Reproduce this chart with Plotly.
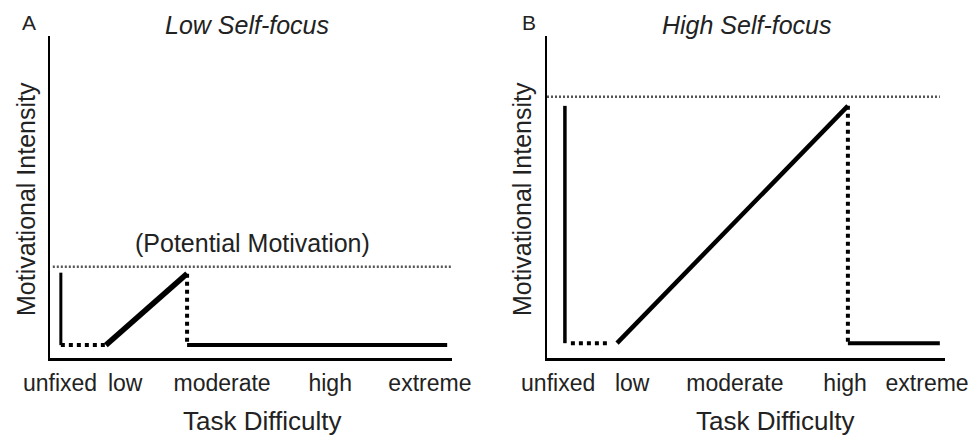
import plotly.graph_objects as go

# ---------------- data ----------------
categories = ["unfixed", "low", "moderate", "high", "extreme"]
tick_pos_a = [0.25, 1.87, 4.28, 6.97, 9.45]
tick_pos_b = [0.28, 2.14, 4.72, 7.49, 9.55]

# Panel A (Low Self-focus): key x positions and y levels
a_potential = 2.83
a_potential_x = [0.07, 10.0]
a_unfixed_x = 0.27
a_low_x = 1.39
a_drop_x = 3.41
a_end_x = 9.88
a_top = 2.65
a_peak = 2.62
a_base = 0.40

# Panel B (High Self-focus)
b_potential = 8.11
b_potential_x = [0.0, 9.87]
b_unfixed_x = 0.45
b_dot_end_x = 1.58
b_low_x = 1.76
b_drop_x = 7.56
b_end_x = 9.87
b_top = 7.83
b_peak = 7.83
b_base = 0.46

W, H = 973, 436
FONT = "Arial, Liberation Sans, sans-serif"
TXT = "#222222"


def fx(px):
    return px / W


def fy(py):
    return 1 - py / H


fig = go.Figure()


def seg(x, y, xa, ya, width, dash="solid", color="black"):
    fig.add_trace(go.Scatter(x=x, y=y, xaxis=xa, yaxis=ya, mode="lines",
                             line=dict(color=color, width=width, dash=dash),
                             showlegend=False, hoverinfo="skip"))


# Panel A
seg(a_potential_x, [a_potential, a_potential], "x", "y", 2.5, "2px,2px", "#555")
seg([a_unfixed_x, a_unfixed_x], [a_top, a_base], "x", "y", 3)
seg([a_unfixed_x, a_low_x], [a_base, a_base], "x", "y", 4, "dot")
seg([a_low_x, a_drop_x], [a_base, a_peak], "x", "y", 5.5)
seg([a_drop_x, a_drop_x], [a_peak, a_base], "x", "y", 4, "dot")
seg([a_drop_x, a_end_x], [a_base, a_base], "x", "y", 4)

# Panel B
seg(b_potential_x, [b_potential, b_potential], "x2", "y2", 2.5, "2px,2px", "#555")
seg([b_unfixed_x, b_unfixed_x], [b_top, b_base], "x2", "y2", 3.5)
seg([b_unfixed_x + 0.15, b_dot_end_x], [b_base, b_base], "x2", "y2", 4, "dot")
seg([b_low_x, b_drop_x], [b_base, b_peak], "x2", "y2", 4.5)
seg([b_drop_x, b_drop_x], [b_peak, b_base], "x2", "y2", 4, "dot")
seg([b_drop_x, b_end_x], [b_base, b_base], "x2", "y2", 4)

ydom = [fy(358), fy(36)]
axis_common = dict(showgrid=False, zeroline=False, showline=True, automargin=False,
                   linecolor="black", linewidth=2.5, fixedrange=True)

fig.update_layout(
    width=W, height=H,
    margin=dict(l=0, r=0, t=0, b=0),
    paper_bgcolor="white", plot_bgcolor="white",
    font=dict(family=FONT, color=TXT),
    xaxis=dict(domain=[fx(50), fx(452)], range=[0, 10], tickmode="array",
               tickvals=tick_pos_a, ticktext=categories, ticks="",
               tickfont=dict(size=23, color=TXT), ticklabelstandoff=3,
               anchor="y", **axis_common),
    yaxis=dict(domain=ydom, range=[0, 10], showticklabels=False, ticks="",
               anchor="x", **axis_common),
    xaxis2=dict(domain=[fx(547), fx(945)], range=[0, 10], tickmode="array",
                tickvals=tick_pos_b, ticktext=categories, ticks="",
                tickfont=dict(size=23, color=TXT), ticklabelstandoff=3,
                anchor="y2", **axis_common),
    yaxis2=dict(domain=ydom, range=[0, 10], showticklabels=False, ticks="",
                anchor="x2", **axis_common),
)


def note(text, px, py, size, angle=0):
    fig.add_annotation(text=text, x=fx(px), y=fy(py), xref="paper", yref="paper",
                       xanchor="center", yanchor="middle", showarrow=False,
                       textangle=angle, font=dict(size=size, color=TXT, family=FONT))


note("A", 29, 23, 21)
note("<i>Low Self-focus</i>", 247, 25, 25)
note("(Potential Motivation)", 252, 243, 25)
note("Motivational Intensity", 26, 199, 25, -90)
note("Task Difficulty", 262, 421, 26)

note("B", 529, 22, 21)
note("<i>High Self-focus</i>", 747, 25, 25)
note("Motivational Intensity", 522, 199, 25, -90)
note("Task Difficulty", 775, 421, 26)

fig.write_html("out.html",
               config={"displayModeBar": False, "staticPlot": True},
               post_script="document.body.style.margin='0';document.body.style.overflow='hidden';")
